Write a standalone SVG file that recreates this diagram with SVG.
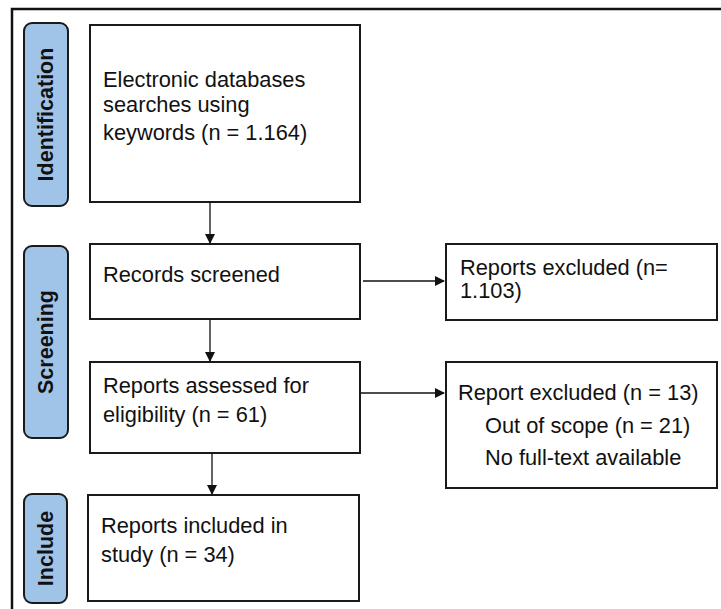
<svg xmlns="http://www.w3.org/2000/svg" width="721" height="609" viewBox="0 0 721 609">
<style>
.box{fill:#fff;stroke:#1a1a1a;stroke-width:2}
.pill{fill:#a0c4e8;stroke:#1a1a1a;stroke-width:2}
.t{font-family:"Liberation Sans",Arial,sans-serif;font-size:21.8px;fill:#111}
.lab{font-family:"Liberation Sans",Arial,sans-serif;font-size:21.5px;font-weight:bold;fill:#111;text-anchor:middle;dominant-baseline:central}
.con{stroke:#111;stroke-width:1.3;fill:none}
</style>
<defs>
<marker id="ah" markerWidth="10" markerHeight="10" refX="9" refY="5" orient="auto" markerUnits="userSpaceOnUse">
<path d="M0,0 L10,5 L0,10 Z" fill="#111"/>
</marker>
</defs>
<rect width="721" height="609" fill="#fff"/>
<path d="M12,609 V9 H721" fill="none" stroke="#111" stroke-width="2.5"/>

<g id="phase-identification">
<rect class="pill" x="24" y="23" width="44" height="183" rx="8"/>
<text class="lab" transform="translate(46,114.5) rotate(-90)">Identification</text>
</g>
<g id="phase-screening">
<rect class="pill" x="24" y="246" width="44" height="192" rx="8"/>
<text class="lab" transform="translate(46,342) rotate(-90)">Screening</text>
</g>
<g id="phase-include">
<rect class="pill" x="24" y="494" width="43" height="109" rx="8"/>
<text class="lab" transform="translate(45.5,548.5) rotate(-90)">Include</text>
</g>

<g id="n-identification">
<rect class="box" x="90" y="25" width="270" height="177"/>
<text class="t" x="103" y="87">Electronic databases</text>
<text class="t" x="103" y="112">searches using</text>
<text class="t" x="103" y="140">keywords (n = 1.164)</text>
</g>
<g id="n-screened">
<rect class="box" x="90" y="244" width="270" height="75"/>
<text class="t" x="103" y="282">Records screened</text>
</g>
<g id="n-assessed">
<rect class="box" x="90" y="362" width="270" height="91"/>
<text class="t" x="103" y="393">Reports assessed for</text>
<text class="t" x="103" y="422">eligibility  (n = 61)</text>
</g>
<g id="n-included">
<rect class="box" x="88" y="495" width="271" height="106"/>
<text class="t" x="101" y="533">Reports included in</text>
<text class="t" x="101" y="562">study (n = 34)</text>
</g>
<g id="n-excluded1">
<rect class="box" x="446" y="244" width="271" height="76"/>
<text class="t" x="460" y="275">Reports excluded (n=</text>
<text class="t" x="460" y="298">1.103)</text>
</g>
<g id="n-excluded2">
<rect class="box" x="446" y="362" width="271" height="126"/>
<text class="t" x="458" y="400">Report excluded (n = 13)</text>
<text class="t" x="485" y="433">Out of scope (n = 21)</text>
<text class="t" x="485" y="465">No full-text available</text>
</g>

<g id="connectors">
<line class="con" x1="210" y1="202" x2="210" y2="243" marker-end="url(#ah)"/>
<line class="con" x1="210" y1="319" x2="210" y2="361" marker-end="url(#ah)"/>
<line class="con" x1="212" y1="453" x2="212" y2="494" marker-end="url(#ah)"/>
<line class="con" x1="363" y1="281" x2="444" y2="281" marker-end="url(#ah)"/>
<line class="con" x1="361" y1="393" x2="444" y2="393" marker-end="url(#ah)"/>
</g>
</svg>
